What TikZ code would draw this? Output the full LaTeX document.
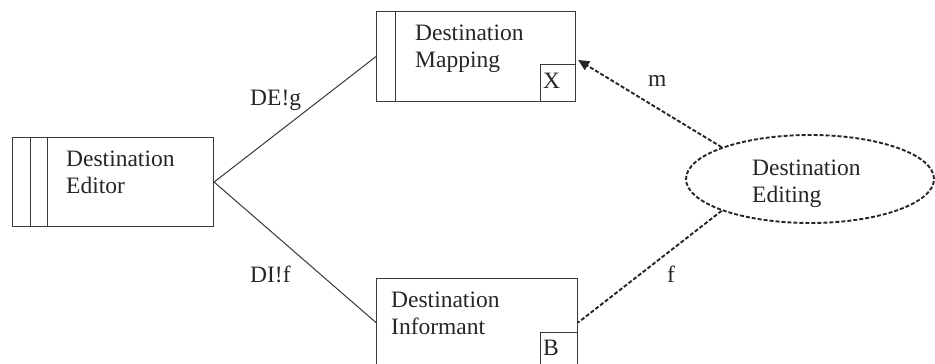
\documentclass[tikz,border=0pt]{standalone}
\usepackage{fontspec}
\setmainfont{Liberation Serif}
\usetikzlibrary{shapes.geometric,calc,arrows.meta}
\begin{document}
\begin{tikzpicture}[x=1pt,y=-1pt,
  box/.style={draw=black!78, line width=1.1pt, rectangle, inner sep=0pt, anchor=north west},
  markbox/.style={draw=black!78, line width=1.1pt, rectangle, inner sep=0pt, anchor=south east},
  lbl/.style={font=\fontsize{23.5}{27}\selectfont, inner sep=0pt, anchor=base west, align=left, text=black!85},
  tag/.style={font=\fontsize{23.5}{27}\selectfont, inner sep=0pt, anchor=base west, text=black!85},
  flow/.style={draw=black!78, line width=1pt},
  dotted link/.style={draw=black!85, line width=1.9pt, dash pattern=on 4pt off 2pt},
]
\useasboundingbox (0,0) rectangle (935,364);
\begin{scope}
\clip (0,0) rectangle (935,364);

% domain boxes
\node[box, minimum width=201pt, minimum height=89pt] (editor) at (12,137) {};
\draw[flow] ($(editor.north west)+(18,0)$) -- ($(editor.south west)+(18,0)$);
\draw[flow] ($(editor.north west)+(35,0)$) -- ($(editor.south west)+(35,0)$);

\node[box, minimum width=199pt, minimum height=90pt] (mapping) at (376,11) {};
\draw[flow] ($(mapping.north west)+(19,0)$) -- ($(mapping.south west)+(19,0)$);
\node[markbox, minimum width=35pt, minimum height=37pt] (xmark) at (mapping.south east) {};

\node[box, minimum width=201pt, minimum height=88pt] (informant) at (376,278) {};
\node[markbox, minimum width=37pt, minimum height=34pt] (bmark) at (informant.south east) {};

% requirement
\node[ellipse, dotted link, minimum width=248pt, minimum height=88pt, inner sep=0pt] (editing) at (810,179) {};

% texts (anchored at the baseline of their last line)
\node[lbl] (editortext) at (66,193) {Destination\\Editor};
\node[lbl] (mappingtext) at (415,67) {Destination\\Mapping};
\node[lbl] (informanttext) at (391,334) {Destination\\Informant};
\node[lbl] (editingtext) at (752,202) {Destination\\Editing};
\node[tag] (xtext) at (543,88) {X};
\node[tag] (btext) at (543,355) {B};

% interfaces
\draw[flow] (editor.east) -- (mapping.west);
\draw[flow] (editor.east) -- (informant.west);
\draw[dotted link, -{Triangle[length=11pt,width=10pt]}] (editing.north west) -- ($(xmark.north east)+(2,-4)$);
\draw[dotted link] (editing.south west) -- (informant.east);

\node[tag] (deg) at (250,105) {DE!g};
\node[tag] (dif) at (250,282) {DI!f};
\node[tag] (mlabel) at (648,86) {m};
\node[tag] (flabel) at (667,282) {f};
\end{scope}
\end{tikzpicture}
\end{document}
